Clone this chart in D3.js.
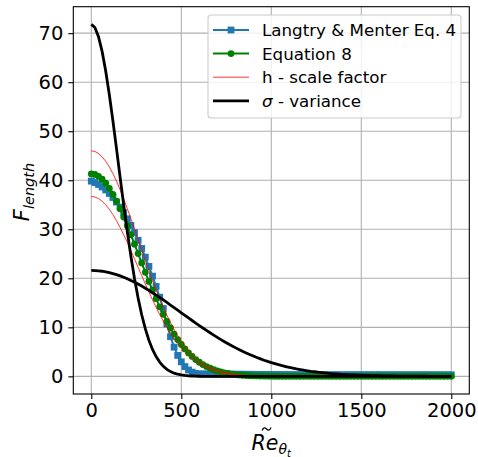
<!DOCTYPE html>
<html>
<head>
<meta charset="utf-8">
<script src="https://cdn.jsdelivr.net/npm/d3@7"></script>
<style>
  body { margin: 0; background: #fff; }
  text { font-family: "DejaVu Sans", sans-serif; }
</style>
</head>
<body>
<svg id="chart" width="478" height="457"></svg>
<script>
// Re_theta_t samples (x)
var re = [0,20,40,60,80,100,120,140,160,180,200,220,240,260,280,300,320,340,360,380,
  400,420,440,460,480,500,520,540,560,580,600,620,640,660,680,700,720,740,760,780,
  800,820,840,860,880,900,920,940,960,980,1000,1020,1040,1060,1080,1100,1120,1140,1160,1180,
  1200,1220,1240,1260,1280,1300,1320,1340,1360,1380,1400,1420,1440,1460,1480,1500,1520,1540,1560,1580,
  1600,1620,1640,1660,1680,1700,1720,1740,1760,1780,1800,1820,1840,1860,1880,1900,1920,1940,1960,1980,2000];

// Langtry & Menter Eq. 4 (blue squares)
var langtry = [39.82,39.53,39.13,38.63,38.02,37.30,36.48,35.55,34.52,33.38,
  32.13,30.78,29.32,27.76,26.09,24.31,22.43,20.44,18.34,16.14,
  13.84,10.70,8.09,5.96,4.27,2.96,1.99,1.30,0.86,0.60,
  0.50,0.49,0.49,0.48,0.48,0.47,0.46,0.46,0.45,0.45,
  0.44,0.43,0.43,0.42,0.42,0.41,0.40,0.40,0.39,0.39,
  0.38,0.37,0.37,0.36,0.36,0.35,0.34,0.34,0.33,0.33,
  0.32,0.32,0.32,0.32,0.32,0.32,0.32,0.32,0.32,0.32,
  0.32,0.32,0.32,0.32,0.32,0.32,0.32,0.32,0.32,0.32,
  0.32,0.32,0.32,0.32,0.32,0.32,0.32,0.32,0.32,0.32,
  0.32,0.32,0.32,0.32,0.32,0.32,0.32,0.32,0.32,0.32,0.32];

// Equation 8 (green circles)
var eq8 = [41.30,41.18,40.81,40.21,39.39,38.36,37.13,35.73,34.18,32.50,
  30.72,28.87,26.97,25.05,23.13,21.22,19.37,17.56,15.84,14.19,
  12.65,11.20,9.86,8.63,7.51,6.50,5.59,4.78,4.06,3.43,
  2.88,2.41,2.00,1.65,1.35,1.10,0.89,0.72,0.58,0.46,
  0.36,0.29,0.22,0.17,0.13,0.10,0.08,0.06,0.05,0.03,
  0.03,0.02,0.01,0.01,0.01,0,0,0,0,0,
  0,0,0,0,0,0,0,0,0,0, 0,0,0,0,0,0,0,0,0,0,
  0,0,0,0,0,0,0,0,0,0, 0,0,0,0,0,0,0,0,0,0,0];

// h - scale factor (red, upper and lower)
var hHigh = [46.00,45.87,45.45,44.78,43.87,42.73,41.36,39.80,38.07,36.20,
  34.22,32.16,30.04,27.90,25.76,23.64,21.57,19.56,17.64,15.81,
  14.09,12.48,10.98,9.61,8.36,7.24,6.23,5.32,4.52,3.82,
  3.21,2.68,2.23,1.84,1.50,1.23,0.99,0.80,0.64,0.51,
  0.40,0.32,0.25,0.19,0.15,0.11,0.09,0.07,0.05,0.04,
  0.03,0.02,0.01,0.01,0.01,0,0,0,0,0,
  0,0,0,0,0,0,0,0,0,0, 0,0,0,0,0,0,0,0,0,0,
  0,0,0,0,0,0,0,0,0,0, 0,0,0,0,0,0,0,0,0,0,0];
var hLow = [36.70,36.59,36.26,35.73,35.00,34.09,32.99,31.75,30.37,28.88,
  27.30,25.65,23.97,22.26,20.55,18.86,17.21,15.60,14.08,12.61,
  11.24,9.95,8.76,7.67,6.67,5.78,4.97,4.25,3.61,3.05,
  2.56,2.14,1.78,1.47,1.20,0.98,0.79,0.64,0.52,0.41,
  0.32,0.26,0.20,0.15,0.12,0.09,0.07,0.05,0.04,0.03,
  0.03,0.02,0.01,0.01,0.01,0,0,0,0,0,
  0,0,0,0,0,0,0,0,0,0, 0,0,0,0,0,0,0,0,0,0,
  0,0,0,0,0,0,0,0,0,0, 0,0,0,0,0,0,0,0,0,0,0];

// sigma - variance (black, narrow and wide)
var sigNarrow = [71.80,71.16,69.29,66.28,62.28,57.49,52.14,46.45,40.65,34.95,
  29.52,24.49,19.96,15.99,12.57,9.72,7.38,5.50,4.03,2.90,
  2.05,1.42,0.97,0.65,0.43,0.28,0.18,0.11,0.07,0.04,
  0.02,0.01,0.01,0,0,0,0,0,0,0,
  0,0,0,0,0,0,0,0,0,0, 0,0,0,0,0,0,0,0,0,0,
  0,0,0,0,0,0,0,0,0,0, 0,0,0,0,0,0,0,0,0,0,
  0,0,0,0,0,0,0,0,0,0, 0,0,0,0,0,0,0,0,0,0,0];
var sigWide = [21.60,21.58,21.53,21.44,21.32,21.16,20.97,20.75,20.50,20.22,
  19.91,19.57,19.20,18.82,18.41,17.98,17.53,17.06,16.58,16.09,
  15.59,15.07,14.55,14.03,13.50,12.97,12.44,11.91,11.39,10.87,
  10.36,9.86,9.37,8.89,8.41,7.95,7.50,7.07,6.65,6.25,
  5.86,5.48,5.12,4.78,4.45,4.14,3.84,3.56,3.29,3.04,
  2.81,2.59,2.38,2.18,2.00,1.83,1.67,1.52,1.39,1.26,
  1.14,1.03,0.94,0.84,0.76,0.69,0.62,0.55,0.50,0.44,
  0.40,0.35,0.31,0.28,0.25,0.22,0.19,0.17,0.15,0.13,
  0.12,0.10,0.09,0.08,0.07,0.06,0.05,0.04,0.04,0.03,
  0.03,0.02,0.02,0.02,0.01,0.01,0.01,0.01,0.01,0.01,0.00];

var xTicks = [0, 500, 1000, 1500, 2000];
var yTicks = [0, 10, 20, 30, 40, 50, 60, 70];
var legendLabels = ['Langtry & Menter Eq. 4', 'Equation 8', 'h - scale factor', ' - variance'];

var svg = d3.select('#chart');
var box = {left: 73.3, right: 469.3, top: 6.7, bottom: 394};

var x = d3.scaleLinear().domain([-100, 2100]).range([box.left, box.right]);
var y = d3.scaleLinear().domain([-3.6, 75.4]).range([box.bottom, box.top]);

// grid
var grid = svg.append('g').attr('stroke', '#b0b0b0').attr('stroke-width', 1.1);
grid.selectAll('.gx').data(xTicks).enter().append('line')
  .attr('x1', d => x(d)).attr('x2', d => x(d))
  .attr('y1', box.top).attr('y2', box.bottom);
grid.selectAll('.gy').data(yTicks).enter().append('line')
  .attr('x1', box.left).attr('x2', box.right)
  .attr('y1', d => y(d)).attr('y2', d => y(d));

// axes
var xAxis = svg.append('g')
  .attr('transform', 'translate(0,' + box.bottom + ')')
  .call(d3.axisBottom(x).tickValues(xTicks).tickSize(5).tickPadding(4).tickFormat(d3.format('d')));
var yAxis = svg.append('g')
  .attr('transform', 'translate(' + box.left + ',0)')
  .call(d3.axisLeft(y).tickValues(yTicks).tickSize(5).tickPadding(5).tickFormat(d3.format('d')));
[xAxis, yAxis].forEach(function(a) {
  a.select('.domain').remove();
  a.selectAll('line').attr('stroke', '#000').attr('stroke-width', 1.1);
  a.selectAll('text').attr('fill', '#000').style('font-size', '19.5px').style('font-family', '"DejaVu Sans"');
});

var line = d3.line().x((d, i) => x(re[i])).y(d => y(d));

// blue: Langtry & Menter
svg.append('path').datum(langtry).attr('d', line)
  .attr('fill', 'none').attr('stroke', '#1f77b4').attr('stroke-width', 2);
svg.append('g').selectAll('rect').data(langtry).enter().append('rect')
  .attr('x', (d, i) => x(re[i]) - 3.4).attr('y', d => y(d) - 3.4)
  .attr('width', 6.8).attr('height', 6.8).attr('fill', '#1f77b4');

// green: Equation 8
svg.append('path').datum(eq8).attr('d', line)
  .attr('fill', 'none').attr('stroke', '#008000').attr('stroke-width', 2);
svg.append('g').selectAll('circle').data(eq8).enter().append('circle')
  .attr('cx', (d, i) => x(re[i])).attr('cy', d => y(d))
  .attr('r', 3.4).attr('fill', '#008000');

// red: h scale factor
[hHigh, hLow].forEach(function(s) {
  svg.append('path').datum(s).attr('d', line)
    .attr('fill', 'none').attr('stroke', '#ff0000').attr('stroke-width', 0.8);
});

// black: sigma variance
[sigNarrow, sigWide].forEach(function(s) {
  svg.append('path').datum(s).attr('d', line)
    .attr('fill', 'none').attr('stroke', '#000').attr('stroke-width', 2.8);
});

// frame
svg.append('rect')
  .attr('x', box.left).attr('y', box.top)
  .attr('width', box.right - box.left).attr('height', box.bottom - box.top)
  .attr('fill', 'none').attr('stroke', '#000').attr('stroke-width', 1.1);

// legend
var leg = svg.append('g');
leg.append('rect').attr('x', 208).attr('y', 15).attr('width', 253).attr('height', 103).attr('rx', 3)
  .attr('fill', '#fff').attr('fill-opacity', 0.8).attr('stroke', '#cccccc').attr('stroke-width', 1.1);
var legColors = ['#1f77b4', '#008000', '#ff0000', '#000'];
var legWidths = [2, 2, 0.8, 2.8];
legendLabels.forEach(function(lab, i) {
  var ly = 30 + i * 23.6;
  leg.append('line').attr('x1', 213).attr('x2', 249).attr('y1', ly).attr('y2', ly)
    .attr('stroke', legColors[i]).attr('stroke-width', legWidths[i]);
  if (i == 0) {
    leg.append('rect').attr('x', 231 - 3.4).attr('y', ly - 3.4).attr('width', 6.8).attr('height', 6.8).attr('fill', legColors[i]);
  }
  if (i == 1) {
    leg.append('circle').attr('cx', 231).attr('cy', ly).attr('r', 3.4).attr('fill', legColors[i]);
  }
  var t = leg.append('text').attr('x', 262).attr('y', ly).attr('dy', '0.36em')
    .style('font-size', '16.7px').attr('fill', '#000');
  if (i == 3) {
    t.append('tspan').style('font-style', 'italic').text('σ');
  }
  t.append('tspan').text(lab);
});

// y label: F_length
var yl = svg.append('text')
  .attr('transform', 'translate(29,192) rotate(-90)')
  .attr('text-anchor', 'middle').attr('fill', '#000');
yl.append('tspan').style('font-size', '21px').style('font-style', 'italic').text('F');
yl.append('tspan').attr('dy', 5).style('font-size', '14.5px').style('font-style', 'italic').text('length');

// x label: tilde Re_theta_t
var xl = svg.append('text')
  .attr('x', 271.3).attr('y', 450)
  .attr('text-anchor', 'middle').attr('fill', '#000');
xl.append('tspan').style('font-size', '20.5px').style('font-style', 'italic').text('Re');
xl.append('tspan').attr('dy', 4).style('font-size', '14px').style('font-style', 'italic').text('θ');
xl.append('tspan').attr('dy', 2.5).style('font-size', '10px').style('font-style', 'italic').text('t');
var n = xl.node();
var cx = (n.getStartPositionOfChar(0).x + n.getEndPositionOfChar(1).x) / 2 + 1.5;
// tilde accent over Re
svg.append('path')
  .attr('d', 'M' + (cx - 4.5) + ',430.5 C' + (cx - 3) + ',427 ' + (cx - 1.5) + ',427.5 ' + cx + ',429 S' + (cx + 3) + ',431 ' + (cx + 4.5) + ',427.5')
  .attr('fill', 'none').attr('stroke', '#000').attr('stroke-width', 1.2);
</script>
</body>
</html>
